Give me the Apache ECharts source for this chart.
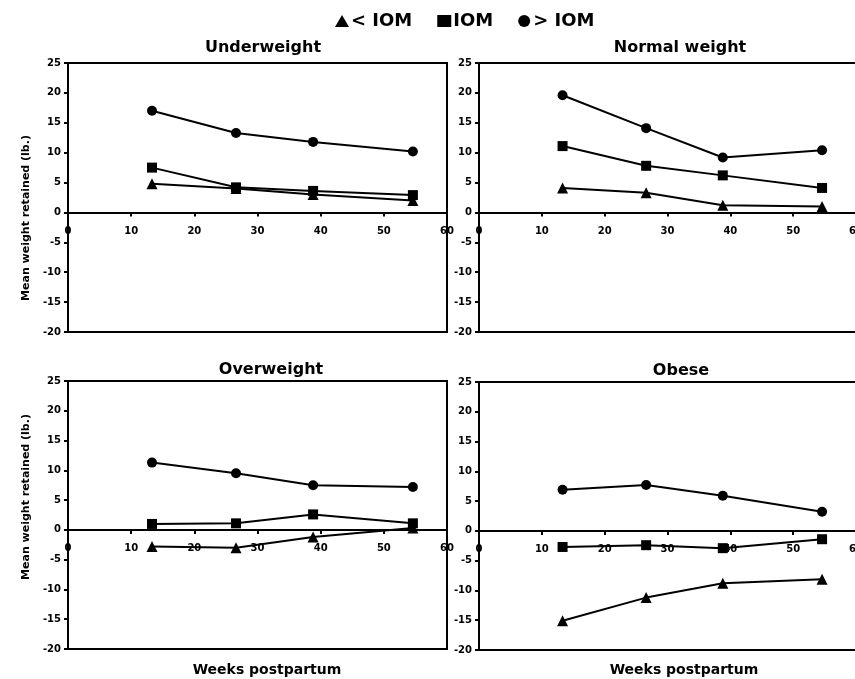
<!DOCTYPE html>
<html>
<head>
<meta charset="utf-8">
<script src="https://cdn.jsdelivr.net/npm/echarts@6/dist/echarts.min.js"></script>
<style>
    html, body { margin: 0; padding: 0; background: #fff; }
    #chart { width: 855px; height: 679px; }
</style>
</head>
<body>
<div id="chart"></div>
<script>
// weeks postpartum (x) shared by every panel
const weeks = [13.3, 26.6, 38.8, 54.6]
const yTicks = [-20, -15, -10, -5, 0, 5, 10, 15, 20, 25]
const groups = ['< IOM', 'IOM', '> IOM']
const panels = ['Underweight', 'Normal weight', 'Overweight', 'Obese']

// mean weight retained (lb.), one array per panel and group
const underBelow = [4.8, 4.0, 3.0, 2.0]
const underWithin = [7.5, 4.2, 3.6, 2.9]
const underAbove = [17.0, 13.3, 11.8, 10.2]

const normalBelow = [4.1, 3.3, 1.2, 1.0]
const normalWithin = [11.1, 7.8, 6.2, 4.1]
const normalAbove = [19.6, 14.1, 9.2, 10.4]

const overBelow = [-2.8, -3.0, -1.2, 0.3]
const overWithin = [1.0, 1.1, 2.6, 1.1]
const overAbove = [11.3, 9.5, 7.5, 7.2]

const obeseBelow = [-15.1, -11.2, -8.8, -8.1]
const obeseWithin = [-2.7, -2.4, -2.9, -1.4]
const obeseAbove = [6.9, 7.7, 5.9, 3.2]

const panelData = [
    [underBelow, underWithin, underAbove],
    [normalBelow, normalWithin, normalAbove],
    [overBelow, overWithin, overAbove],
    [obeseBelow, obeseWithin, obeseAbove]
]

const symbols = ['triangle', 'rect', 'circle']
const symbolSizes = [11, 10, 10]

const boldFont = 'DejaVu Sans'
const grids = [
    { left: 68, top: 63, width: 379, height: 269 },
    { left: 479, top: 63, width: 377, height: 269 },
    { left: 68, top: 381, width: 379, height: 268 },
    { left: 479, top: 382, width: 377, height: 268 }
]

const yMin = yTicks[0]
const yMax = yTicks[yTicks.length - 1]
const tickLabel = { color: '#000', fontFamily: boldFont, fontWeight: 'bold', fontSize: 10 }

const chart = echarts.init(document.getElementById('chart'))

const series = []
panelData.forEach((rows, p) => {
    rows.forEach((vals, g) => {
        series.push({
            name: groups[g],
            type: 'line',
            xAxisIndex: p,
            yAxisIndex: p,
            symbol: symbols[g],
            symbolSize: symbolSizes[g],
            color: '#000',
            lineStyle: { color: '#000', width: 2 },
            itemStyle: { color: '#000' },
            animation: false,
            data: weeks.map((w, i) => [w, vals[i]])
        })
    })
})

const textEl = (text, x, y, size, rotation) => ({
    type: 'text',
    x: x,
    y: y,
    rotation: rotation || 0,
    style: {
        text: text,
        fill: '#000',
        font: 'bold ' + size + 'px "' + boldFont + '"',
        textAlign: 'center',
        textVerticalAlign: 'middle'
    }
})

const option = {
    backgroundColor: '#fff',
    animation: false,
    legend: {
        left: 330,
        top: 7,
        itemWidth: 14,
        itemHeight: 12,
        itemGap: 25,
        data: groups.map((name, i) => ({ name: name, icon: symbols[i] })),
        itemStyle: { color: '#000' },
        textStyle: { color: '#000', fontFamily: boldFont, fontWeight: 'bold', fontSize: 18, padding: [0, 0, 0, -3] }
    },
    // right-hand panels run past the page edge, as in the original
    grid: grids.map(g => ({
        ...g,
        outerBoundsMode: 'none',
        containLabel: false,
        show: true,
        borderColor: '#000',
        borderWidth: 2,
        backgroundColor: 'transparent'
    })),
    xAxis: grids.map((g, i) => ({
        type: 'value',
        gridIndex: i,
        position: 'bottom',
        // put the axis on y = 0
        offset: -g.height * (0 - yMin) / (yMax - yMin),
        min: 0,
        max: 60,
        interval: 10,
        axisLine: { show: true, onZero: false, lineStyle: { color: '#000', width: 2 } },
        axisTick: { show: true, length: 4, lineStyle: { color: '#000', width: 2 } },
        axisLabel: { ...tickLabel, margin: 14 },
        splitLine: { show: false }
    })),
    yAxis: grids.map((g, i) => ({
        type: 'value',
        gridIndex: i,
        min: yMin,
        max: yMax,
        interval: 5,
        axisLine: { show: true, onZero: false, lineStyle: { color: '#000', width: 2 } },
        axisTick: { show: true, length: 4, lineStyle: { color: '#000', width: 2 } },
        axisLabel: { ...tickLabel, margin: 7 },
        splitLine: { show: false }
    })),
    graphic: [
        textEl(panels[0], 263, 48, 16),
        textEl(panels[1], 680, 48, 16),
        textEl(panels[2], 271, 370, 16),
        textEl(panels[3], 681, 371, 16),
        textEl('Mean weight retained (lb.)', 26, 218, 11, Math.PI / 2),
        textEl('Mean weight retained (lb.)', 26, 497, 11, Math.PI / 2),
        textEl('Weeks postpartum', 267, 670, 14),
        textEl('Weeks postpartum', 684, 670, 14)
    ],
    series: series
}

chart.setOption(option)
</script>
</body>
</html>
